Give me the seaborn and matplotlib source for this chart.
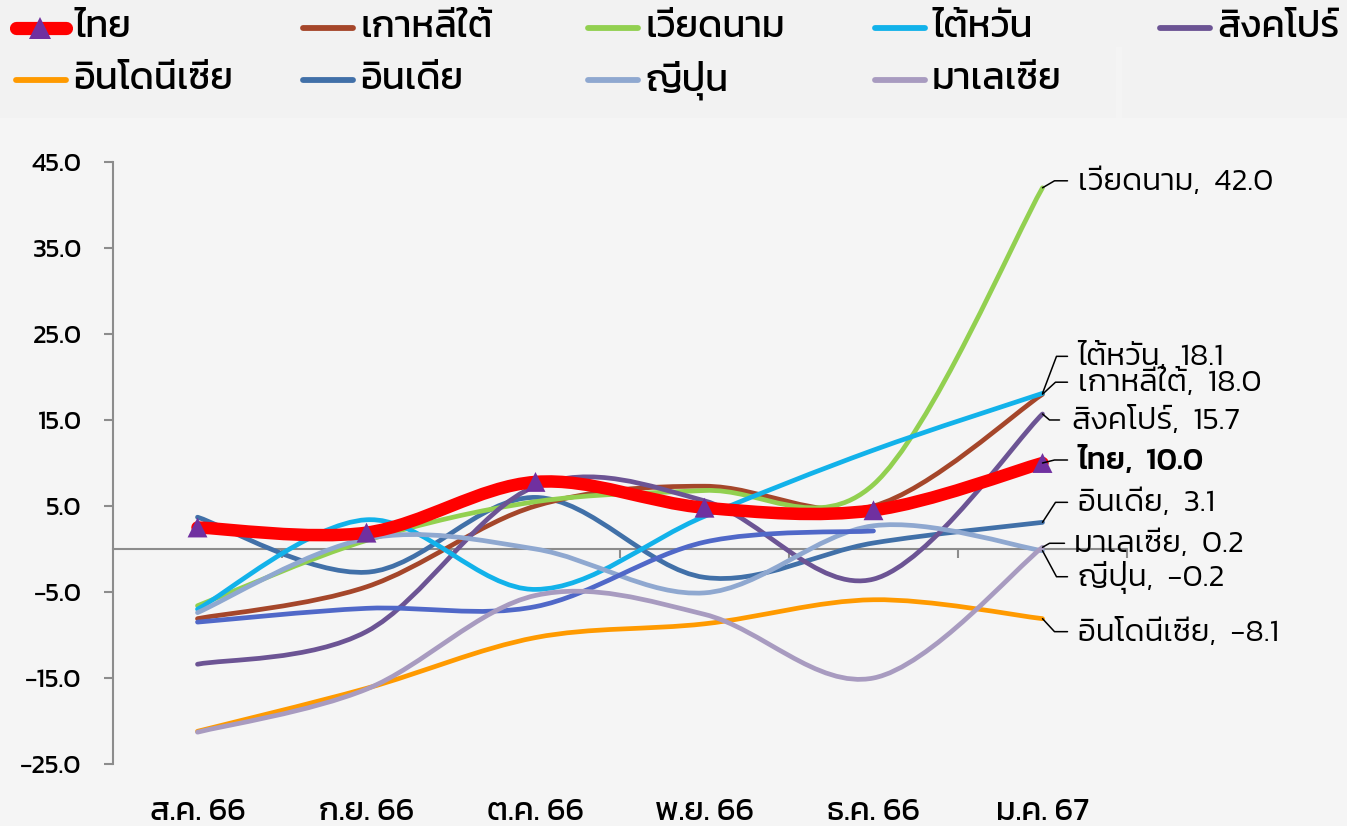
import numpy as np
import matplotlib
matplotlib.use("Agg")
import matplotlib.pyplot as plt
import matplotlib.font_manager as fm
from matplotlib.ft2font import FT2Font
from matplotlib.path import Path
from matplotlib.patches import PathPatch, Rectangle
from matplotlib.lines import Line2D
import seaborn as sns

# ---------------- data ----------------
months = ["ส.ค. 66", "ก.ย. 66", "ต.ค. 66", "พ.ย. 66", "ธ.ค. 66", "ม.ค. 67"]
thailand = [2.5, 1.9, 7.8, 4.8, 4.5, 10.0]
korea = [-8.1, -4.4, 5.0, 7.3, 5.0, 18.0]
vietnam = [-6.6, 1.0, 5.5, 6.8, 7.5, 42.0]
taiwan = [-7.0, 3.4, -4.7, 3.8, 11.5, 18.1]
singapore = [-13.4, -9.6, 7.3, 5.6, -3.5, 15.7]
indonesia = [-21.2, -16.2, -10.3, -8.7, -5.9, -8.1]
india = [3.7, -2.7, 6.0, -3.3, 0.7, 3.1]
japan = [-7.4, 1.2, 0.0, -5.1, 2.7, -0.2]
malaysia = [-21.3, -16.3, -5.4, -7.6, -15.0, 0.2]
unlabeled = [-8.5, -6.9, -6.7, 0.8, 2.1]

names = {"thailand": "ไทย", "korea": "เกาหลีใต้", "vietnam": "เวียดนาม",
         "taiwan": "ไต้หวัน", "singapore": "สิงคโปร์", "indonesia": "อินโดนีเซีย",
         "india": "อินเดีย", "japan": "ญี่ปุ่น", "malaysia": "มาเลเซีย"}
values = {"thailand": thailand, "korea": korea, "vietnam": vietnam, "taiwan": taiwan,
          "singapore": singapore, "indonesia": indonesia, "india": india,
          "japan": japan, "malaysia": malaysia, "unlabeled": unlabeled}
colors = {"thailand": "#FF0000", "korea": "#A5462A", "vietnam": "#92D050",
          "taiwan": "#12B2EA", "singapore": "#6C5494", "indonesia": "#FF9A00",
          "india": "#4170A8", "japan": "#8FA8D0", "malaysia": "#A89BC0",
          "unlabeled": "#5068C8"}
draw_order = ["india", "korea", "vietnam", "singapore", "indonesia", "taiwan",
              "japan", "unlabeled", "malaysia", "thailand"]
legend_rows = [["thailand", "korea", "vietnam", "taiwan", "singapore"],
               ["indonesia", "india", "japan", "malaysia"]]
label_order = ["vietnam", "taiwan", "korea", "singapore", "thailand",
               "india", "malaysia", "japan", "indonesia"]

# ---------------- fonts ----------------
def thai_families():
    known = set(f.fname for f in fm.fontManager.ttflist)
    for p in fm.findSystemFonts():
        if p not in known:
            try:
                fm.fontManager.addfont(p)
            except Exception:
                pass
    fams = set()
    for f in fm.fontManager.ttflist:
        if f.name in fams:
            continue
        try:
            cm = FT2Font(f.fname).get_charmap()
        except Exception:
            continue
        if 0x0E01 in cm and 0x0E44 in cm:
            fams.add(f.name)
    return fams

fams = thai_families()
thai_font = None
for cand in ["Kanit", "Prompt", "Noto Sans Thai", "Sarabun"]:
    if cand in fams:
        thai_font = cand
        break
if thai_font is None and fams:
    thai_font = sorted(fams)[0]
FAM = ([thai_font] if thai_font else []) + ["DejaVu Sans"]

sns.set_theme(style="white")
plt.rcParams["font.family"] = FAM
plt.rcParams["axes.unicode_minus"] = True

W, H = 1347, 826
fig = plt.figure(figsize=(W / 100, H / 100), dpi=100)
fig.patch.set_facecolor("#F5F5F5")
renderer = fig.canvas.get_renderer()

def fit_size(s, target_px, weight="normal"):
    t = fig.text(0, 0, s, fontsize=20, family=FAM, weight=weight)
    w = t.get_window_extent(renderer).width
    t.remove()
    return 20 * target_px / w

SEP = ",  "
fs_legend = fit_size("อินโดนีเซีย", 160)
fs_label = fit_size("เวียดนาม" + SEP + "42.0", 195, weight=300)
fs_ytick = fit_size("45.0", 50)
fs_xtick = fit_size("ส.ค. 66", 96)

# legend band
fig.add_artist(Rectangle((0, 1 - 118 / H), 1, 118 / H, transform=fig.transFigure,
                         facecolor="#F2F2F2", edgecolor="none", zorder=0))
fig.add_artist(Rectangle((1116 / W, 1 - 118 / H), 6 / W, 71 / H, transform=fig.transFigure,
                         facecolor="#F4F4F4", edgecolor="none", zorder=0))

# ---------------- axes ----------------
ax = fig.add_axes([113 / W, 62 / H, 1014 / W, 602 / H])
ax.set_facecolor("none")
ax.set_xlim(-0.5, len(months) - 0.5)
ax.set_ylim(-25, 45)
ax.set_axisbelow(True)
yt = np.arange(-25, 46, 10)
ax.set_yticks(yt)
ax.set_yticklabels([f"{v:.1f}".replace("-", "\u2212") for v in yt], fontsize=fs_ytick)
ax.set_xticks(np.arange(0.5, len(months), 1.0))
ax.tick_params(axis="x", bottom=True, direction="out", length=6.5, width=1.5,
               color="#8C8C8C", labelbottom=False)
ax.tick_params(axis="y", left=True, direction="out", length=6.5, width=1.5,
               color="#8C8C8C", pad=16, labelcolor="black")
for s in ["top", "right"]:
    ax.spines[s].set_visible(False)
ax.spines["left"].set_color("#8C8C8C")
ax.spines["left"].set_linewidth(1.5)
ax.spines["bottom"].set_position(("data", 0))
ax.spines["bottom"].set_color("#8C8C8C")
ax.spines["bottom"].set_linewidth(1.5)
ax.spines["bottom"].set_zorder(0.6)

for i, m in enumerate(months):
    ax.text(i, -48 / 602, m, transform=ax.get_xaxis_transform(), ha="center",
            va="center", fontsize=fs_xtick, color="black")

def smooth_path(ys):
    pts = np.column_stack([np.arange(len(ys)), ys]).astype(float)
    n = len(pts)
    verts = [pts[0]]
    codes = [Path.MOVETO]
    for i in range(n - 1):
        p0 = pts[i - 1] if i > 0 else pts[i]
        p1, p2 = pts[i], pts[i + 1]
        p3 = pts[i + 2] if i + 2 < n else pts[i + 1]
        verts += [p1 + (p2 - p0) / 6.0, p2 - (p3 - p1) / 6.0, p2]
        codes += [Path.CURVE4] * 3
    return Path(verts, codes)

for z, key in enumerate(draw_order):
    lw = 9.0 if key == "thailand" else 3.4
    ax.add_patch(PathPatch(smooth_path(values[key]), fill=False, edgecolor=colors[key],
                           lw=lw, capstyle="round", joinstyle="round", zorder=3 + z * 0.1))

sns.scatterplot(x=np.arange(len(thailand)), y=thailand, marker="^", s=205,
                color="#7030A0", edgecolor="none", zorder=10, ax=ax, legend=False)

# ---------------- data labels with leader lines ----------------
# (baseline offset from point in px (down +), corner dx, end dx, text dx)
label_style = {
    "vietnam": (2, 12, 25, 35), "taiwan": (-28, 14, 25, 35), "korea": (-3, 13, 25, 35),
    "singapore": (15, 7, 17, 30), "thailand": (6, 12, 25, 35), "india": (-11, 13, 25, 35),
    "malaysia": (5, 7, 22, 32), "japan": (35, 14, 25, 35), "indonesia": (22, 12, 25, 35),
}
last = len(months) - 1
for key in label_order:
    v = values[key][-1]
    px, py = ax.transData.transform((last, v))
    dy, cdx, edx, tdx = label_style[key]
    base_y = py - dy
    mid_y = base_y + 9
    fig.add_artist(Line2D([px / W, (px + cdx) / W, (px + edx) / W],
                          [py / H, mid_y / H, mid_y / H], transform=fig.transFigure,
                          color="black", lw=1.1, zorder=20))
    txt = (names[key] + SEP + f"{v:.1f}").replace("-", "\u2212")
    fig.text((px + tdx) / W, base_y / H, txt, ha="left", va="baseline",
             fontsize=fs_label, color="black",
             weight=500 if key == "thailand" else 300, zorder=20)

# ---------------- legend ----------------
col_text_x = [75, 360, 645, 932, 1217]
row_center_y = [28, 80]
for r, row in enumerate(legend_rows):
    yc = 1 - row_center_y[r] / H
    for c, key in enumerate(row):
        tx = col_text_x[c] - (2 if r == 1 and c == 0 else 0)
        if key == "thailand":
            fig.add_artist(Line2D([16 / W, 66 / W], [yc, yc], transform=fig.transFigure,
                                  color=colors[key], lw=9.5, solid_capstyle="round"))
            fig.add_artist(Line2D([40 / W], [yc], transform=fig.transFigure, marker="^",
                                  markersize=16, color="#7030A0", markeredgewidth=0, lw=0))
        else:
            fig.add_artist(Line2D([(tx - 57) / W, (tx - 7) / W], [yc, yc],
                                  transform=fig.transFigure, color=colors[key], lw=4.2,
                                  solid_capstyle="round"))
        fig.text(tx / W, yc, names[key], ha="left", va="center", fontsize=fs_legend,
                 color="black")

fig.savefig("out.png", dpi=100, facecolor=fig.get_facecolor())
